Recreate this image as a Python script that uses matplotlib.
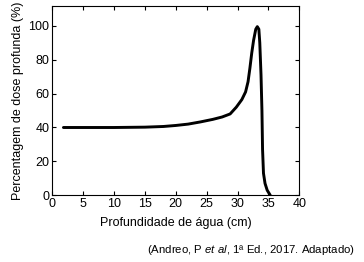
import matplotlib
matplotlib.use("Agg")
import matplotlib.pyplot as plt

depth = [1.8, 5, 10, 15, 18, 20, 22, 24, 26, 27.5, 28.8, 29.8, 30.7, 31.3, 31.7, 32.0, 32.3, 32.6, 32.95, 33.2, 33.45, 33.6, 33.8, 33.95, 34.05, 34.2, 34.45, 34.8, 35.3]
dose = [40.0, 40.0, 40.0, 40.2, 40.6, 41.2, 42.0, 43.3, 44.8, 46.2, 48.0, 52.0, 56.5, 61.0, 67.0, 75.0, 84.0, 91.5, 98.0, 99.5, 98.0, 90.0, 71.0, 50.0, 27.0, 13.0, 7.0, 3.0, 0.0]

xticks = [0, 5, 10, 15, 20, 25, 30, 35, 40]
yticks = [0, 20, 40, 60, 80, 100]

plt.rcParams['font.family'] = ['Liberation Sans', 'DejaVu Sans']
plt.rcParams['mathtext.fontset'] = 'custom'
plt.rcParams['mathtext.it'] = 'Liberation Sans:italic'
plt.rcParams['mathtext.rm'] = 'Liberation Sans'

fig = plt.figure(figsize=(3.64, 2.62), dpi=100)
ax = fig.add_axes([52.3/364, 1 - 195.3/262, (299.3-52.3)/364, (195.3-6.3)/262])
ax.plot(depth, dose, color='black', lw=2.1, solid_capstyle='round', solid_joinstyle='round')
ax.set_xlim(0, 40)
ax.set_ylim(0, 111.5)
ax.set_xticks(xticks)
ax.set_yticks(yticks)
ax.tick_params(direction='in', top=True, right=True, labelsize=9, length=3, width=0.8, pad=2)
for s in ax.spines.values():
    s.set_linewidth(0.8)
ax.set_xlabel('Profundidade de água (cm)', fontsize=9, labelpad=5)
ax.set_ylabel('Percentagem de dose profunda (%)', fontsize=9, labelpad=3)
fig.text(355/364, 1 - 250/262, r'(Andreo, P $\it{et\ al}$, 1ª Ed., 2017. Adaptado)', fontsize=8.2, ha='right', va='center')
fig.savefig('out.png', dpi=100)
